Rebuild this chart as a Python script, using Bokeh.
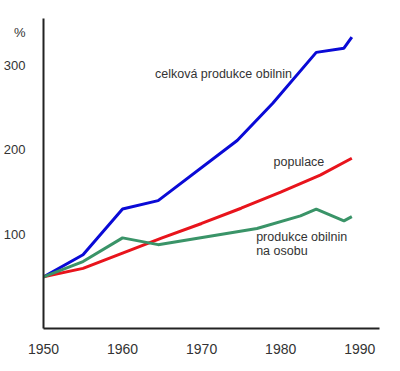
from bokeh.plotting import figure
from bokeh.models import Range1d, FixedTicker
from bokeh.core.properties import value
from bokeh.embed import file_html
from bokeh.resources import INLINE

# Data (index, 1950-based)
years_total = [1950, 1955, 1960, 1964.5, 1974.5, 1979, 1984.5, 1988, 1989]
total = [50, 76, 130, 140, 211, 255, 315, 320, 333]

years_pop = [1950, 1955, 1960, 1965, 1970, 1975, 1980, 1985, 1989]
population = [50, 60, 78, 96, 113, 131, 150, 170, 190]

years_pc = [1950, 1955, 1960, 1964.5, 1977, 1982.5, 1984.5, 1988, 1989]
per_capita = [50, 68, 96, 88, 107, 122, 130, 116, 121]

x_ticks = [1950, 1960, 1970, 1980, 1990]
y_ticks = [100, 200, 300]
unit_tick = 339
unit_label = "%"

label_total = "celková produkce obilnin"
label_pop = "populace"
label_pc = ["produkce obilnin", "na osobu"]

FONT = "Liberation Sans"

p = figure(width=384, height=360, output_backend="svg", toolbar_location=None,
           x_range=Range1d(1950, 1992.5), y_range=Range1d(-11, 355),
           min_border_left=35, min_border_right=5, min_border_top=18, min_border_bottom=32)
p.outline_line_color = None
p.grid.visible = False

for ax in (p.xaxis, p.yaxis):
    ax.axis_line_width = 2
    ax.axis_line_color = "#222222"
    ax.major_tick_line_color = None
    ax.minor_tick_line_color = None
    ax.major_label_text_font = FONT
    ax.major_label_text_color = "#333333"
p.xaxis.ticker = FixedTicker(ticks=x_ticks)
p.yaxis.ticker = FixedTicker(ticks=y_ticks + [unit_tick])
p.yaxis.major_label_overrides = {unit_tick: unit_label}
p.xaxis.major_label_text_font_size = "14px"
p.yaxis.major_label_text_font_size = "13px"
p.xaxis.major_label_standoff = 9
p.yaxis.major_label_standoff = 12

p.line(years_total, total, line_color="#0a0ad6", line_width=3)
p.line(years_pop, population, line_color="#e8141c", line_width=3)
p.line(years_pc, per_capita, line_color="#3a9468", line_width=3)

p.text(x=[1964.1], y=[289], text=[label_total], text_font=value(FONT), text_font_size="12.5px",
       text_color="#333333", text_baseline="middle")
p.text(x=[1979.1], y=[185], text=[label_pop], text_font=value(FONT), text_font_size="12.5px",
       text_color="#333333", text_baseline="middle")
p.text(x=[1976.9, 1976.9], y=[97, 80], text=label_pc, text_font=value(FONT), text_font_size="12.5px",
       text_color="#333333", text_baseline="middle")

open("out.html", "w").write(file_html(p, INLINE))
